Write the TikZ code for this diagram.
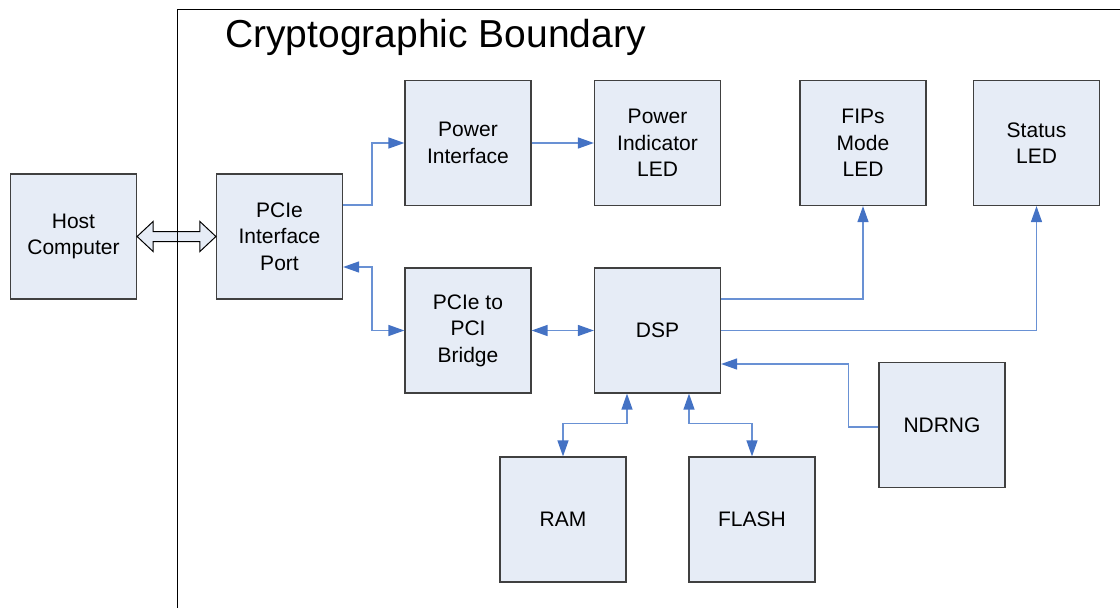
\documentclass[tikz,border=0pt]{standalone}
\usepackage{fontspec}
\setmainfont{Liberation Sans}
\usetikzlibrary{arrows.meta,calc}
\definecolor{boxfill}{RGB}{230,236,246}
\definecolor{boxline}{RGB}{64,64,64}
\definecolor{connc}{RGB}{105,145,212}
\definecolor{tipc}{RGB}{68,114,196}
\begin{document}
\begin{tikzpicture}[x=1pt,y=-1pt,
  box/.style={draw=boxline,line width=1.2pt,fill=boxfill,minimum width=126pt,minimum height=125pt,
    inner sep=0pt,align=center,font=\fontsize{21}{26.5}\selectfont},
  conn/.style={draw=connc,line width=1.3pt},
  tip/.style={-{Triangle[length=16pt,width=11pt,color=tipc]}},
  dtip/.style={{Triangle[length=16pt,width=11pt,color=tipc]}-{Triangle[length=16pt,width=11pt,color=tipc]}},
  hollow/.style={draw=black,line width=1pt,fill=boxfill}]
\useasboundingbox (0,0) rectangle (1120,608);
\node[box] (host) at (73.5,236.5) {Host\\Computer};
\node[box] (pcie) at (279.5,236.5) {PCIe\\Interface\\Port};
\node[box] (pwr) at (468,143) {Power\\Interface};
\node[box] (led) at (657.5,143) {Power\\Indicator\\LED};
\node[box] (fips) at (863,143) {FIPs\\Mode\\LED};
\node[box] (status) at (1036.5,143) {Status\\LED};
\node[box] (bridge) at (468,330.5) {PCIe to\\PCI\\Bridge};
\node[box] (dsp) at (657.5,330.5) {DSP};
\node[box] (ndrng) at (942,425) {NDRNG};
\node[box] (ram) at (563,519.5) {RAM};
\node[box] (flash) at (752,519.5) {FLASH};
% hollow double arrow
\draw[hollow] (host.east) -- ++(16,-15) -- ++(0,10) -- ($(pcie.west)+(-16,-5)$) -- ++(0,-10)
  -- (pcie.west) -- ++(-16,15) -- ++(0,-10) -- ($(host.east)+(16,5)$) -- ++(0,10) -- cycle;
% boundary
\draw[black,line width=1pt] (177,608) -- (177,9.5) -- (1120,9.5);
\node[anchor=base west,inner sep=0pt,font=\fontsize{39}{44}\selectfont] (title) at (225,47) {Cryptographic Boundary};
% connectors
\draw[conn,tip] ($(pcie.east)+(0,-31.5)$) -- ++(29,0) |- (pwr.west);
\draw[conn,tip] (pwr.east) -- (led.west);
\draw[conn,dtip] ($(pcie.east)+(0,30.5)$) -- ++(29,0) |- (bridge.west);
\draw[conn,dtip] (bridge.east) -- (dsp.west);
\draw[conn,tip] ($(dsp.east)+(0,-31.5)$) -| (fips.south);
\draw[conn,tip] (dsp.east) -| (status.south);
\draw[conn,tip] ($(ndrng.west)+(0,2)$) -- ++(-30,0) |- ($(dsp.east)+(0,33.5)$);
\draw[conn,dtip] ($(dsp.south)+(-30.5,0)$) -- ++(0,30) -| (ram.north);
\draw[conn,dtip] ($(dsp.south)+(31.5,0)$) -- ++(0,30) -| (flash.north);
\end{tikzpicture}
\end{document}
